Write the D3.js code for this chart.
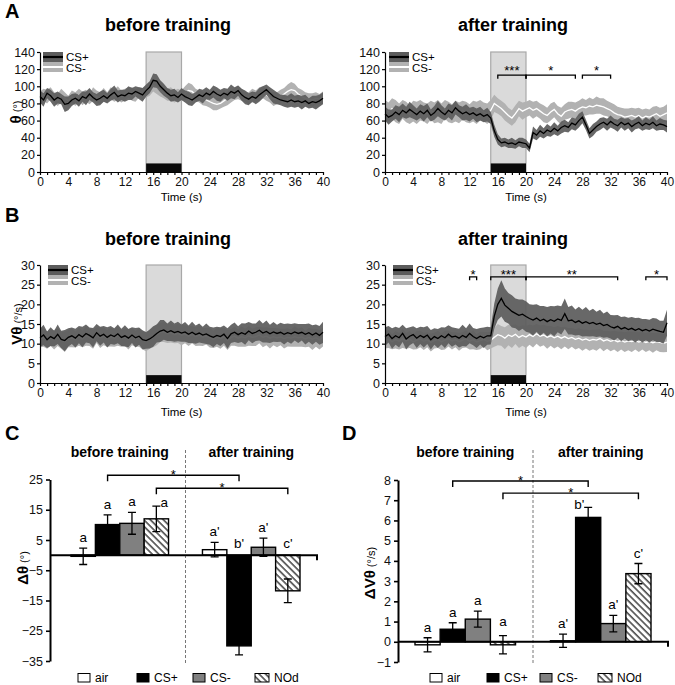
<!DOCTYPE html>
<html><head><meta charset="utf-8">
<script src="https://cdn.jsdelivr.net/npm/d3@7"></script>
<style>
body{margin:0;background:#fff}
svg{font-family:"Liberation Sans",Arial,Helvetica,sans-serif}
</style></head><body>
<svg id="c" width="675" height="685"></svg>
<script>
// ---------------- DATA ----------------
const time = d3.range(0, 40.25, 0.5); // sample times (s), 81 samples
const csWindow = [15, 20];
const timeTicks = d3.range(0, 41, 1);
const thetaTicks = [0, 20, 40, 60, 80, 100, 120, 140];
const velTicks = [0, 5, 10, 15, 20, 25, 30];

// A: theta before training
const thetaBeforeCSp = [88,84,92,89,84,87,85,79,80,84,86, 83,88,86,91,87,84,86,89,86,90, 93,88,90,89,92,91,94,92,90,95, 99,107,106,100,96,92,89,90,87,91, 88,86,84,87,90,88,92,90,94,91, 89,92,90,94,92,95,90,87,85,88, 86,90,93,96,92,88,86,84,83,82, 84,82,83,81,83,80,82,81,83,86];
const thetaBeforeCSpSem = [7,8,6,7,8,7,6,9,8,7,6, 7,6,8,7,6,7,8,7,6,7, 8,7,6,7,8,7,6,7,8,7, 7,8,8,7,7,6,7,7,6,7, 7,8,7,6,7,8,7,6,7,8, 7,6,7,8,7,6,7,8,7,6, 7,8,7,6,7,8,7,6,7,7, 8,7,7,8,7,6,7,8,7,7];
const thetaBeforeCSm = [86,90,88,92,87,84,89,86,83,88,85, 90,86,89,85,91,88,86,90,87,92, 89,92,88,90,93,91,89,93,91,94, 97,101,99,95,92,90,91,88,90,89, 92,95,94,90,88,86,84,82,80,79, 80,83,86,88,91,93,90,88,86,89, 88,91,93,90,87,85,86,88,91,94, 96,95,91,88,86,85,84,86,85,87];
const thetaBeforeCSmSem = [8,7,8,7,6,7,8,7,6,7,8, 7,8,7,6,8,7,7,8,6,7, 7,8,7,7,6,8,7,6,7,7, 8,7,8,7,6,7,8,7,7,6, 8,9,8,7,7,8,7,7,8,7, 6,7,8,7,7,8,7,6,7,8, 7,8,7,7,6,8,7,8,7,8, 9,8,7,8,7,7,8,7,6,7];

// A: theta after training
const thetaAfterCSp = [68,64,66,70,67,72,69,73,70,67,71, 68,72,66,69,74,70,67,72,69,75, 71,68,70,67,69,66,68,65,67,63, 48,38,34,35,33,34,32,35,34,33, 28,46,43,48,45,49,47,51,48,52, 54,52,57,55,60,64,55,45,49,53, 56,58,55,59,56,54,58,55,57,53, 56,58,54,57,55,58,54,56,55,53];
const thetaAfterCSpSem = [8,9,7,8,9,8,7,9,8,7,8, 9,8,7,8,9,8,7,8,9,8, 7,8,9,8,7,8,8,7,8,7, 7,6,5,5,5,6,5,5,6,5, 5,7,6,7,6,7,6,7,6,7, 7,6,7,7,8,7,6,6,7,6, 7,6,7,7,6,7,6,7,6,7, 6,7,6,7,6,7,6,7,6,7];
const thetaAfterCSm = [72,70,74,71,68,73,70,67,71,69,72, 70,68,72,69,71,68,73,70,68,71, 69,72,70,68,71,69,72,70,68,72, 80,77,74,70,66,63,68,74,71,73, 75,72,74,71,68,66,70,73,68,65, 70,72,73,71,74,76,75,77,76,78, 77,76,74,72,69,67,66,64,65,66, 64,66,63,65,64,66,68,65,67,69];
const thetaAfterCSmSem = [12,11,12,13,12,11,12,11,12,13,12, 11,12,11,12,13,12,11,12,11,12, 12,11,12,11,12,13,12,11,12,12, 10,9,9,10,9,9,10,9,10,9, 9,10,9,9,10,9,10,9,9,10, 9,10,9,10,9,10,9,10,9,10, 9,10,9,9,10,9,9,10,9,9, 10,9,10,9,9,10,9,10,9,10];

// B: angular velocity before training
const velBeforeCSp = [11.5,12.2,11.0,11.8,11.3,12.4,11.1,10.8,11.6,12.0,11.4, 12.3,11.7,12.6,12.1,11.5,12.8,11.9,12.4,11.6,12.2, 11.8,12.5,11.6,12.0,11.4,12.2,11.5,11.9,11.0,10.8, 11.2,11.8,12.6,13.2,13.5,12.9,13.3,12.8,13.1,12.7, 13.0,12.4,12.9,12.3,12.7,12.2,12.5,12.0,11.6,12.1, 11.8,12.4,11.3,12.5,12.9,12.3,12.8,12.4,13.2,12.6, 12.9,13.4,12.7,13.1,12.5,13.0,12.6,12.9,12.4,12.8, 12.5,13.0,12.6,12.9,12.4,12.8,12.2,12.7,12.1,12.9];
const velBeforeCSpSem = [2.3,2.6,2.1,2.4,2.0,2.5,2.2,2.7,2.3,2.1,2.4, 2.2,2.6,2.3,2.0,2.5,2.2,2.4,2.1,2.6,2.3, 2.1,2.4,2.2,2.7,2.3,2.0,2.5,2.2,2.4,2.1, 2.4,2.6,2.3,2.8,2.5,2.2,2.6,2.3,2.5,2.2, 2.5,2.2,2.7,2.3,2.4,2.1,2.6,2.3,2.5,2.2, 2.4,2.2,2.6,2.3,2.5,2.1,2.4,2.7,2.3,2.5, 2.2,2.6,2.4,2.8,2.3,2.5,2.2,2.4,2.6,2.3, 2.5,2.2,2.4,2.1,2.6,2.3,2.5,2.2,2.4,2.7];
const velBeforeCSm = [11.2,11.6,10.9,11.4,11.0,11.7,10.8,10.5,11.3,11.5,11.0, 11.8,11.2,12.0,11.6,11.1,12.2,11.5,11.9,11.3,11.7, 11.4,12.0,11.3,11.7,11.1,11.8,11.2,11.6,10.8,10.6, 11.0,11.6,12.3,12.8,13.0,12.5,12.8,12.3,12.6,12.2, 12.4,11.9,12.3,11.8,12.1,11.7,11.9,11.5,11.1,11.6, 11.3,11.8,10.9,11.6,11.9,11.4,11.8,11.5,12.0,11.6, 11.8,12.2,11.6,11.9,11.4,11.8,11.5,11.7,11.3,11.6, 11.4,11.8,11.5,11.7,11.2,11.6,11.1,11.5,11.0,11.7];
const velBeforeCSmSem = [2.1,2.4,2.2,2.0,2.5,2.3,2.1,2.6,2.2,2.4,2.0, 2.3,2.1,2.5,2.2,2.4,2.0,2.6,2.3,2.1,2.4, 2.2,2.5,2.1,2.3,2.6,2.2,2.0,2.4,2.3,2.5, 2.3,2.5,2.7,2.4,2.6,2.3,2.5,2.2,2.4,2.6, 2.3,2.5,2.2,2.4,2.6,2.3,2.1,2.5,2.2,2.4, 2.6,2.3,2.5,2.1,2.4,2.2,2.6,2.3,2.5,2.2, 2.4,2.1,2.5,2.3,2.6,2.2,2.4,2.1,2.5,2.3, 2.2,2.6,2.3,2.5,2.1,2.4,2.7,2.3,2.5,2.4];

// B: angular velocity after training
const velAfterCSp = [11.8,12.4,11.3,12.0,11.5,12.6,11.2,11.9,12.3,11.4,12.1, 11.6,12.2,11.0,11.8,11.3,12.0,11.5,12.4,11.7,11.9, 11.4,12.1,11.6,12.6,11.8,11.3,11.9,11.5,12.0,12.0, 17.0,20.0,21.5,19.8,19.0,18.2,17.7,17.2,17.5,16.9, 16.4,16.0,16.5,15.8,16.2,15.6,16.1,15.7,16.3,15.9, 17.6,15.8,16.0,15.4,15.8,15.2,15.6,15.1,15.4,14.9, 15.2,14.6,14.9,14.3,14.0,14.4,13.7,14.1,13.6,13.9, 13.4,13.8,13.3,13.6,13.2,13.7,13.4,13.1,12.9,15.3];
const velAfterCSpSem = [2.4,2.1,2.6,2.3,2.5,2.2,2.7,2.3,2.1,2.5,2.2, 2.6,2.3,2.5,2.1,2.4,2.2,2.6,2.3,2.5,2.1, 2.4,2.7,2.3,2.5,2.2,2.4,2.1,2.6,2.3,2.2, 3.2,4.0,4.6,4.2,3.9,4.1,3.8,4.0,3.7,3.9, 3.6,3.9,3.5,3.8,3.4,3.7,3.5,3.8,3.4,3.6, 3.9,3.5,3.7,3.3,3.6,3.4,3.7,3.3,3.5,3.2, 3.4,3.1,3.3,3.0,3.2,2.9,3.1,2.8,3.0,2.9, 3.1,2.8,3.0,2.7,2.9,2.8,3.0,2.7,2.9,3.3];
const velAfterCSm = [10.8,11.2,10.5,11.0,10.6,11.3,10.7,11.1,10.4,10.9,11.2, 10.6,11.0,10.3,10.8,11.1,10.5,10.9,11.3,10.7,11.0, 10.5,10.9,11.2,10.6,11.0,10.4,10.8,11.1,10.6,10.9, 11.6,12.3,12.0,11.4,12.2,11.8,12.4,11.6,12.1,11.7, 12.3,11.8,12.5,11.9,12.2,11.6,12.0,11.5,11.9,11.4, 11.8,11.3,11.6,11.1,11.4,10.9,11.2,10.8,11.1,10.9, 11.3,10.7,11.0,10.6,10.9,10.5,10.8,10.4,10.7,10.5, 10.8,10.4,10.7,10.3,10.6,10.2,10.5,10.3,10.1,10.4];
const velAfterCSmSem = [2.0,2.3,1.9,2.2,2.1,2.4,2.0,2.2,1.9,2.3,2.1, 2.2,1.9,2.3,2.0,2.2,2.1,2.4,2.0,2.2,1.9, 2.3,2.0,2.2,2.1,2.4,2.0,2.2,1.9,2.3,2.1, 2.4,2.7,2.5,2.8,2.6,2.9,2.5,2.7,2.6,2.8, 2.6,2.8,2.5,2.7,2.6,2.9,2.5,2.7,2.6,2.8, 2.5,2.7,2.4,2.6,2.5,2.7,2.4,2.6,2.5,2.7, 2.4,2.6,2.3,2.5,2.4,2.6,2.3,2.5,2.4,2.6, 2.3,2.5,2.2,2.4,2.3,2.5,2.2,2.4,2.3,2.5];

// significance brackets on time courses: [start s, end s, label]
const thetaAfterSig = [[16, 20, "***"], [20, 27, "*"], [28, 32, "*"]];
const velAfterSig = [[12, 13, "*"], [15, 20, "***"], [20, 33, "**"], [37, 40, "*"]];

// C, D: bar charts
const phases = ["before training", "after training"];
const barCategories = ["air", "CS+", "CS-", "NOd"];
const dThetaBefore = [-0.4, 10.1, 10.5, 12.0];
const dThetaBeforeErr = [2.7, 3.2, 3.6, 4.2];
const dThetaAfter = [1.8, -30.0, 2.6, -11.8];
const dThetaAfterErr = [2.4, 3.0, 3.0, 3.9];
const dThetaLetters = [["a", "a", "a", "a"], ["a'", "b'", "a'", "c'"]];
const dThetaTicks = [-35, -25, -15, -5, 5, 15, 25];
const dVelBefore = [-0.15, 0.62, 1.12, -0.15];
const dVelBeforeErr = [0.35, 0.32, 0.4, 0.45];
const dVelAfter = [0.05, 6.15, 0.9, 3.37];
const dVelAfterErr = [0.33, 0.5, 0.41, 0.5];
const dVelLetters = [["a", "a", "a", "a"], ["a'", "b'", "a'", "c'"]];
const dVelTicks = [-1, 0, 1, 2, 3, 4, 5, 6, 7, 8];
// comparisons: [category, bracket level value]
const dThetaSig = [["CS+", 26.4, "*"], ["NOd", 22.1, "*"]];
const dVelSig = [["CS+", 7.95, "*"], ["NOd", 7.35, "*"]];

// ---------------- DRAW ----------------
const svg = d3.select("#c");
const defs = svg.append("defs");
const pat = defs.append("pattern").attr("id", "hatch").attr("patternUnits", "userSpaceOnUse")
  .attr("width", 4.6).attr("height", 4.6).attr("patternTransform", "rotate(-45)");
pat.append("rect").attr("width", 4.6).attr("height", 4.6).attr("fill", "#fff");
pat.append("line").attr("x1", 1).attr("y1", 0).attr("x2", 1).attr("y2", 4.6).attr("stroke", "#222").attr("stroke-width", 1.3);

const DARK = "#5c5c5c", LIGHT = "#b2b2b2";

function styleAxis(a, w) {
  a.attr("font-family", null).attr("font-size", 12.5);
  a.selectAll("path,line").attr("stroke", "#000").attr("stroke-width", w);
  a.selectAll("text").attr("fill", "#111");
}

function ylabel(x, y, big, small, bigSize) {
  const t = svg.append("text").attr("transform", `translate(${x},${y}) rotate(-90)`).attr("text-anchor", "middle");
  t.append("tspan").attr("font-weight", "bold").attr("font-size", bigSize).text(big);
  t.append("tspan").attr("font-size", 11).text(" " + small);
}

function drawTS(c) {
  const g = svg.append("g");
  const x = d3.scaleLinear().domain([0, 40]).range([c.x0, c.x1]);
  const y = d3.scaleLinear().domain([0, c.ymax]).range([c.yb, c.yt]);
  g.append("rect").attr("x", x(csWindow[0])).attr("y", y(c.ymax))
    .attr("width", x(csWindow[1]) - x(csWindow[0])).attr("height", y(0) - y(c.ymax))
    .attr("fill", "#dadada").attr("stroke", "#a8a8a8").attr("stroke-width", 1.2);
  g.append("rect").attr("x", x(csWindow[0])).attr("y", y(c.cue))
    .attr("width", x(csWindow[1]) - x(csWindow[0])).attr("height", y(0) - y(c.cue)).attr("fill", "#0a0a0a");
  const band = (m, s) => d3.area().x((d, i) => x(time[i])).y0((d, i) => y(m[i] - s[i])).y1((d, i) => y(m[i] + s[i]))(m);
  const line = m => d3.line().x((d, i) => x(time[i])).y(d => y(d))(m);
  g.append("path").attr("d", band(c.m, c.ms)).attr("fill", LIGHT);
  g.append("path").attr("d", line(c.m)).attr("fill", "none").attr("stroke", "#fff").attr("stroke-width", 1.3);
  g.append("path").attr("d", band(c.p, c.ps)).attr("fill", DARK).attr("fill-opacity", 0.93);
  g.append("path").attr("d", line(c.p)).attr("fill", "none").attr("stroke", "#000").attr("stroke-width", 1.3);

  const xa = g.append("g").attr("transform", `translate(0,${y(0)})`)
    .call(d3.axisBottom(x).tickValues(timeTicks).tickFormat(d => d % 4 === 0 ? d : "").tickSize(3).tickPadding(2).tickSizeOuter(0));
  const ya = g.append("g").attr("transform", `translate(${c.x0},0)`)
    .call(d3.axisLeft(y).tickValues(c.yticks).tickSize(3).tickPadding(2).tickSizeOuter(0));
  styleAxis(xa, 1.2); styleAxis(ya, 1.2);
  xa.attr("font-size", 12);
  g.append("text").attr("x", (c.x0 + c.x1) / 2).attr("y", c.timeY).attr("text-anchor", "middle")
    .attr("font-size", 11.5).text("Time (s)");
  g.append("text").attr("x", c.titleX).attr("y", c.titleY).attr("text-anchor", "middle")
    .attr("font-size", 18).attr("font-weight", "bold").text(c.title);
  if (c.letter) g.append("text").attr("x", 5).attr("y", c.letterY).attr("font-size", 20).attr("font-weight", "bold").text(c.letter);
  // legend
  const lx = c.lx, ly = y(c.ymax);
  g.append("rect").attr("x", lx).attr("y", ly).attr("width", 20).attr("height", 10).attr("fill", DARK);
  g.append("line").attr("x1", lx).attr("x2", lx + 20).attr("y1", ly + 5).attr("y2", ly + 5).attr("stroke", "#000").attr("stroke-width", 2.2);
  g.append("rect").attr("x", lx).attr("y", ly + 10).attr("width", 20).attr("height", 10).attr("fill", LIGHT);
  g.append("line").attr("x1", lx).attr("x2", lx + 20).attr("y1", ly + 15).attr("y2", ly + 15).attr("stroke", "#fff").attr("stroke-width", 2);
  g.append("text").attr("x", lx + 23).attr("y", ly + 9).attr("font-size", 11.5).text("CS+");
  g.append("text").attr("x", lx + 23).attr("y", ly + 19.5).attr("font-size", 11.5).text("CS-");
  // significance
  (c.sig || []).forEach(([a, b, lab]) => {
    const by = y(c.sigLevel);
    g.append("path").attr("d", `M${x(a)},${by + 3.5}V${by}H${x(b)}V${by + 3.5}`)
      .attr("fill", "none").attr("stroke", "#000").attr("stroke-width", 1.3);
    g.append("text").attr("x", (x(a) + x(b)) / 2).attr("y", by + c.starDy).attr("text-anchor", "middle")
      .attr("font-size", 13).text(lab);
  });
}

drawTS({x0: 40, x1: 323, yb: 172, yt: 52, ymax: 140, yticks: thetaTicks, cue: 10, title: "before training",
  titleX: 168, titleY: 31, letter: "A", letterY: 18, timeY: 200.5, lx: 43,
  p: thetaBeforeCSp, ps: thetaBeforeCSpSem, m: thetaBeforeCSm, ms: thetaBeforeCSmSem});
drawTS({x0: 385, x1: 667, yb: 172, yt: 52, ymax: 140, yticks: thetaTicks, cue: 10, title: "after training",
  titleX: 513, titleY: 31, timeY: 200.5, lx: 389, sig: thetaAfterSig, sigLevel: 113, starDy: 0,
  p: thetaAfterCSp, ps: thetaAfterCSpSem, m: thetaAfterCSm, ms: thetaAfterCSmSem});
drawTS({x0: 40, x1: 323, yb: 383, yt: 265, ymax: 30, yticks: velTicks, cue: 2, title: "before training",
  titleX: 168, titleY: 245, letter: "B", letterY: 222, timeY: 415.5, lx: 48,
  p: velBeforeCSp, ps: velBeforeCSpSem, m: velBeforeCSm, ms: velBeforeCSmSem});
drawTS({x0: 385, x1: 667, yb: 383, yt: 265, ymax: 30, yticks: velTicks, cue: 2, title: "after training",
  titleX: 513, titleY: 245, timeY: 415.5, lx: 393, sig: velAfterSig, sigLevel: 27, starDy: 2,
  p: velAfterCSp, ps: velAfterCSpSem, m: velAfterCSm, ms: velAfterCSmSem});

ylabel(21, 112, "θ", "(°)", 15);
ylabel(22, 324, "Vθ", "(°/s)", 15);

function drawBars(c) {
  const g = svg.append("g");
  const y = d3.scaleLinear().domain(c.yDomain).range([c.yb, c.yt]);
  const gx = d3.scaleBand().domain(phases).range([c.bx0, c.bx1]).paddingInner(0.258);
  const cx = d3.scaleBand().domain(barCategories).range([0, gx.bandwidth()]);
  const center = (p, k) => gx(p) + cx(k) + cx.bandwidth() / 2;
  const midX = (gx(phases[0]) + gx.bandwidth() + gx(phases[1])) / 2;
  g.append("line").attr("x1", midX).attr("x2", midX).attr("y1", 450).attr("y2", c.yb + 2)
    .attr("stroke", "#777").attr("stroke-width", 1).attr("stroke-dasharray", "3,2");
  phases.forEach(p => g.append("text").attr("x", gx(p) + gx.bandwidth() / 2).attr("y", 457)
    .attr("text-anchor", "middle").attr("font-size", 14).attr("font-weight", "bold").text(p));
  g.append("text").attr("x", c.letterX).attr("y", 440).attr("font-size", 20).attr("font-weight", "bold").text(c.letter);
  const fills = {"air": "#fff", "CS+": "#000", "CS-": "#808080", "NOd": "url(#hatch)"};
  const sets = [[c.before, c.beforeErr], [c.after, c.afterErr]];
  phases.forEach((p, pi) => {
    barCategories.forEach((k, ki) => {
      const v = sets[pi][0][ki], e = sets[pi][1][ki];
      g.append("rect").attr("x", gx(p) + cx(k)).attr("width", cx.bandwidth())
        .attr("y", y(Math.max(0, v))).attr("height", Math.abs(y(v) - y(0)))
        .attr("fill", fills[k]).attr("stroke", "#000").attr("stroke-width", 1.4);
      const xc = center(p, k);
      g.append("path").attr("d", `M${xc},${y(v + e)}V${y(v - e)}M${xc - 4},${y(v + e)}H${xc + 4}M${xc - 4},${y(v - e)}H${xc + 4}`)
        .attr("stroke", "#000").attr("stroke-width", 1.3).attr("fill", "none");
      const top = v + e;
      let ly = top > 0 ? y(top) - 6 : y(0) - 7;
      const nud = (c.nudge || {})[pi + "|" + k] || [0, 0];
      g.append("text").attr("x", xc + nud[0]).attr("y", ly + nud[1]).attr("text-anchor", "middle")
        .attr("font-size", 13.5).text(c.letters[pi][ki]);
    });
  });
  // axes
  const ya = g.append("g").attr("transform", `translate(${c.ax0},0)`)
    .call(d3.axisLeft(y).tickValues(c.yticks).tickSize(4).tickPadding(3).tickSizeOuter(0));
  styleAxis(ya, 1.6);
  ya.select(".domain").attr("stroke-width", 2);
  g.append("path").attr("d", `M${c.ax0},${y(0)}H${c.axEnd}V${y(0) + 5}`)
    .attr("fill", "none").attr("stroke", "#000").attr("stroke-width", 2);
  // significance
  c.sig.forEach(([k, lev, lab]) => {
    const a = center(phases[0], k), b = center(phases[1], k), by = y(lev);
    g.append("path").attr("d", `M${a},${by + 6}V${by}H${b}V${by + 6}`)
      .attr("fill", "none").attr("stroke", "#000").attr("stroke-width", 1.4);
    g.append("text").attr("x", (a + b) / 2).attr("y", by + 3.5).attr("text-anchor", "middle").attr("font-size", 13).text(lab);
  });
  // legend
  barCategories.forEach((k, i) => {
    const lx = c.legX[i];
    g.append("rect").attr("x", lx).attr("y", 673.5).attr("width", k === "NOd" ? 14 : 12).attr("height", 8.5)
      .attr("fill", fills[k]).attr("stroke", "#000").attr("stroke-width", 1);
    g.append("text").attr("x", lx + (k === "NOd" ? 19 : 17)).attr("y", 682).attr("font-size", 12).text(k);
  });
}

drawBars({yDomain: [-35, 25], yb: 661, yt: 479.5, bx0: 71, bx1: 300, ax0: 50, axEnd: 317,
  yticks: dThetaTicks, before: dThetaBefore, beforeErr: dThetaBeforeErr, after: dThetaAfter, afterErr: dThetaAfterErr,
  letters: dThetaLetters, sig: dThetaSig, letter: "C", letterX: 5, legX: [78, 137, 193, 255],
  nudge: {"0|NOd": [8, 7]}});
drawBars({yDomain: [-1, 8], yb: 662, yt: 480, bx0: 415, bx1: 651, ax0: 398, axEnd: 668,
  yticks: dVelTicks, before: dVelBefore, beforeErr: dVelBeforeErr, after: dVelAfter, afterErr: dVelAfterErr,
  letters: dVelLetters, sig: dVelSig, letter: "D", letterX: 342, legX: [430, 487, 540, 598],
  nudge: {"1|CS+": [-9, 8], "0|NOd": [0, -4]}});

ylabel(28, 568, "Δθ", "(°)", 15);
ylabel(375, 573, "ΔVθ", "(°/s)", 15);
</script>
</body></html>
